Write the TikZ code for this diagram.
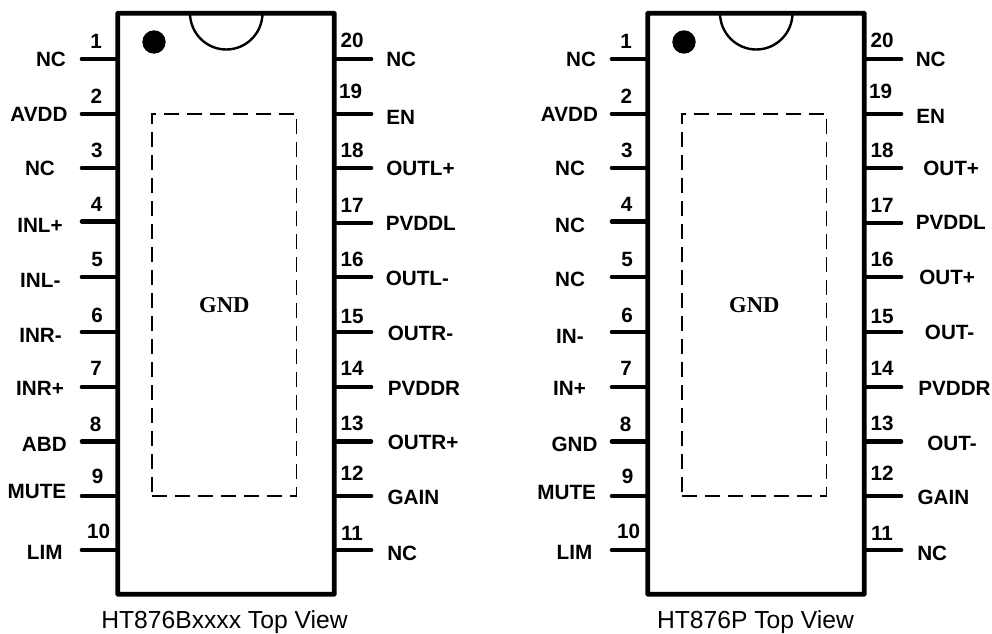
\documentclass[tikz,border=0pt]{standalone}
\usepackage{fontspec}
\setmainfont{Liberation Sans}
\newfontfamily\gndfont{Liberation Serif}
\usetikzlibrary{positioning}

\begin{document}
\begin{tikzpicture}[
    x=0.75pt, y=-0.75pt,
    chip/.style={rectangle, draw, line width=3.6pt, rounded corners=0.5pt, minimum width=162.5pt, minimum height=435.75pt, outer sep=0pt, inner sep=0pt},
    pad/.style={rectangle, draw, line width=1.25pt, dash pattern=on 11.25pt off 6pt, minimum width=108.5pt, minimum height=286.5pt, outer sep=0pt, font=\gndfont\bfseries\fontsize{17}{20}\selectfont},
    pin/.style={line width=3.5pt, line cap=round},
    notch/.style={line width=1.8pt},
    pinnum/.style={font=\bfseries\fontsize{15.5}{17}\selectfont, inner sep=0pt},
    pinlabel/.style={font=\bfseries\fontsize{15.5}{17}\selectfont, inner sep=0pt},
    title/.style={font=\fontsize{18.5}{22}\selectfont, inner sep=0pt, anchor=base}
]
    \useasboundingbox (0,0) rectangle (992,634);

    % chip outline, pins and numbers are the same on both parts
    \foreach \c/\dx in {a/0,b/530} {
    \begin{scope}[shift={(\dx,0)}]
        \draw[notch] (190,13) arc[start angle=180, end angle=0, x radius=36.25, y radius=36.5];
        \node[chip] (chip\c) at (226,303.8) {};
        \fill (154,42) circle[radius=11.7];
        \node[pad] (pad\c) at (224.3,304.7) {GND};

        \foreach \n/\py/\nx/\ny in {1/59/96/41.7,2/114/96.3/96,3/168/96.8/150,4/221.5/96.5/204,5/277/97/259,6/332/97/315,7/387/96/368,8/441.5/95.5/424,9/496/97.7/476,10/550/98.7/531} {
            \coordinate (pin\c\n) at (82,\py);
            \draw[pin] (pin\c\n) -- (pin\c\n -| chip\c.west);
            \node[pinnum] (num\c\n) at (\nx,\ny) {\n};
        }
        \foreach \n/\py/\nx/\ny in {20/59/352/40.7,19/114/350.7/91.7,18/168/352/150,17/223/352/205,16/277/352/259,15/332/352/316,14/387/352/368,13/441.5/352/423,12/496/352/473,11/550/352/533} {
            \coordinate (pin\c\n) at (371,\py);
            \draw[pin] (pin\c\n -| chip\c.east) -- (pin\c\n);
            \node[pinnum] (num\c\n) at (\nx,\ny) {\n};
        }
    \end{scope}
    }

    % left part
    \foreach \n/\lx/\ly/\txt in {1/51/59.3/NC,2/39/114/AVDD,3/40/168.3/NC,4/40/225/INL+,5/40.3/280/INL-,6/40.5/335.7/INR-,7/40/388.3/INR+,8/44.3/444.3/ABD,9/37/491.7/MUTE,10/44.7/552.7/LIM} {
        \node[pinlabel] (labela\n) at (\lx,\ly) {\txt};
    }
    \foreach \n/\lx/\ly/\txt in {20/386/59.3/NC,19/386/117.3/EN,18/386/168/OUTL+,17/385.5/223/PVDDL,16/385.5/278/OUTL-,15/387.5/333/OUTR-,14/387.5/388.5/PVDDR,13/387.5/442/OUTR+,12/387.3/497.3/GAIN,11/387/553.3/NC} {
        \node[pinlabel, anchor=west] (labela\n) at (\lx,\ly) {\txt};
    }
    \node[title] (titlea) at (224.5,628.5) {HT876Bxxxx Top View};

    % right part
    \foreach \n/\lx/\ly/\txt in {1/581/59.3/NC,2/569.5/114/AVDD,3/570/168/NC,4/570/225/NC,5/570/279/NC,6/570/336/IN-,7/569.5/388/IN+,8/574.5/444/GND,9/566.7/492/MUTE,10/574.5/552.7/LIM} {
        \node[pinlabel] (labelb\n) at (\lx,\ly) {\txt};
    }
    \foreach \n/\lx/\ly/\txt in {20/915.5/59/NC,19/916/116.7/EN,18/923/168/OUT+,17/915.5/222/PVDDL,16/919/277/OUT+,15/924.7/332.7/OUT-,14/918/388/PVDDR,13/927/443/OUT-,12/917.3/497.7/GAIN,11/917/553.3/NC} {
        \node[pinlabel, anchor=west] (labelb\n) at (\lx,\ly) {\txt};
    }
    \node[title] (titleb) at (755.5,628.5) {HT876P Top View};
\end{tikzpicture}
\end{document}
